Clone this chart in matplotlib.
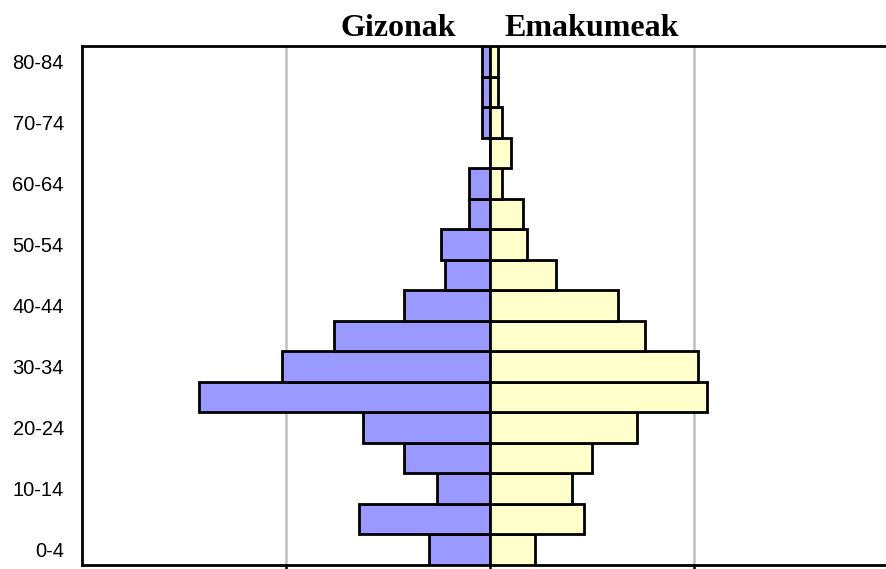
import matplotlib
matplotlib.use("Agg")
import matplotlib.pyplot as plt
import numpy as np

ages = ["0-4", "5-9", "10-14", "15-19", "20-24", "25-29", "30-34", "35-39",
        "40-44", "45-49", "50-54", "55-59", "60-64", "65-69", "70-74",
        "75-79", "80-84"]
gizonak = [0.60, 1.28, 0.52, 0.84, 1.25, 2.85, 2.04, 1.53, 0.84, 0.44,
           0.48, 0.21, 0.21, 0.0, 0.08, 0.08, 0.08]
emakumeak = [0.44, 0.92, 0.80, 1.00, 1.44, 2.13, 2.04, 1.52, 1.25, 0.65,
             0.36, 0.32, 0.12, 0.21, 0.12, 0.08, 0.08]
xticks = [-2, 0, 2]

fig = plt.figure(figsize=(8.86, 5.69), dpi=100)
W, H = 886, 569
left, right, top, bottom = 82, 898, 46, 565
ax = fig.add_axes([left / W, (H - bottom) / H, (right - left) / W, (bottom - top) / H])

y = np.arange(len(ages))
ax.barh(y, -np.array(gizonak), height=1.0, color="#9999FF", edgecolor="black",
        linewidth=2.0, zorder=3)
ax.barh(y, emakumeak, height=1.0, color="#FFFFCC", edgecolor="black",
        linewidth=2.0, zorder=3)

ax.set_xlim(-4, 4)
ax.set_ylim(-0.5, len(ages) - 0.5)
ax.set_xticks(xticks)
ax.set_xticklabels([])
ax.tick_params(axis="x", direction="out", length=4, width=1.8, color="black")
ax.grid(axis="x", color="#c0c0c0", linewidth=1.8, zorder=0)

ax.set_yticks(y[::2])
ax.set_yticklabels(ages[::2], fontsize=14.5, fontfamily="Liberation Sans")
ax.tick_params(axis="y", length=0, pad=13)
for sp in ax.spines.values():
    sp.set_linewidth(2.0)
    sp.set_color("black")

fig.text(398 / W, 1 - 28 / H, "Gizonak", ha="center", va="center",
         fontsize=23, fontweight="bold", fontfamily="Liberation Serif")
fig.text(592 / W, 1 - 28 / H, "Emakumeak", ha="center", va="center",
         fontsize=23, fontweight="bold", fontfamily="Liberation Serif")

fig.savefig("out.png", dpi=100)
